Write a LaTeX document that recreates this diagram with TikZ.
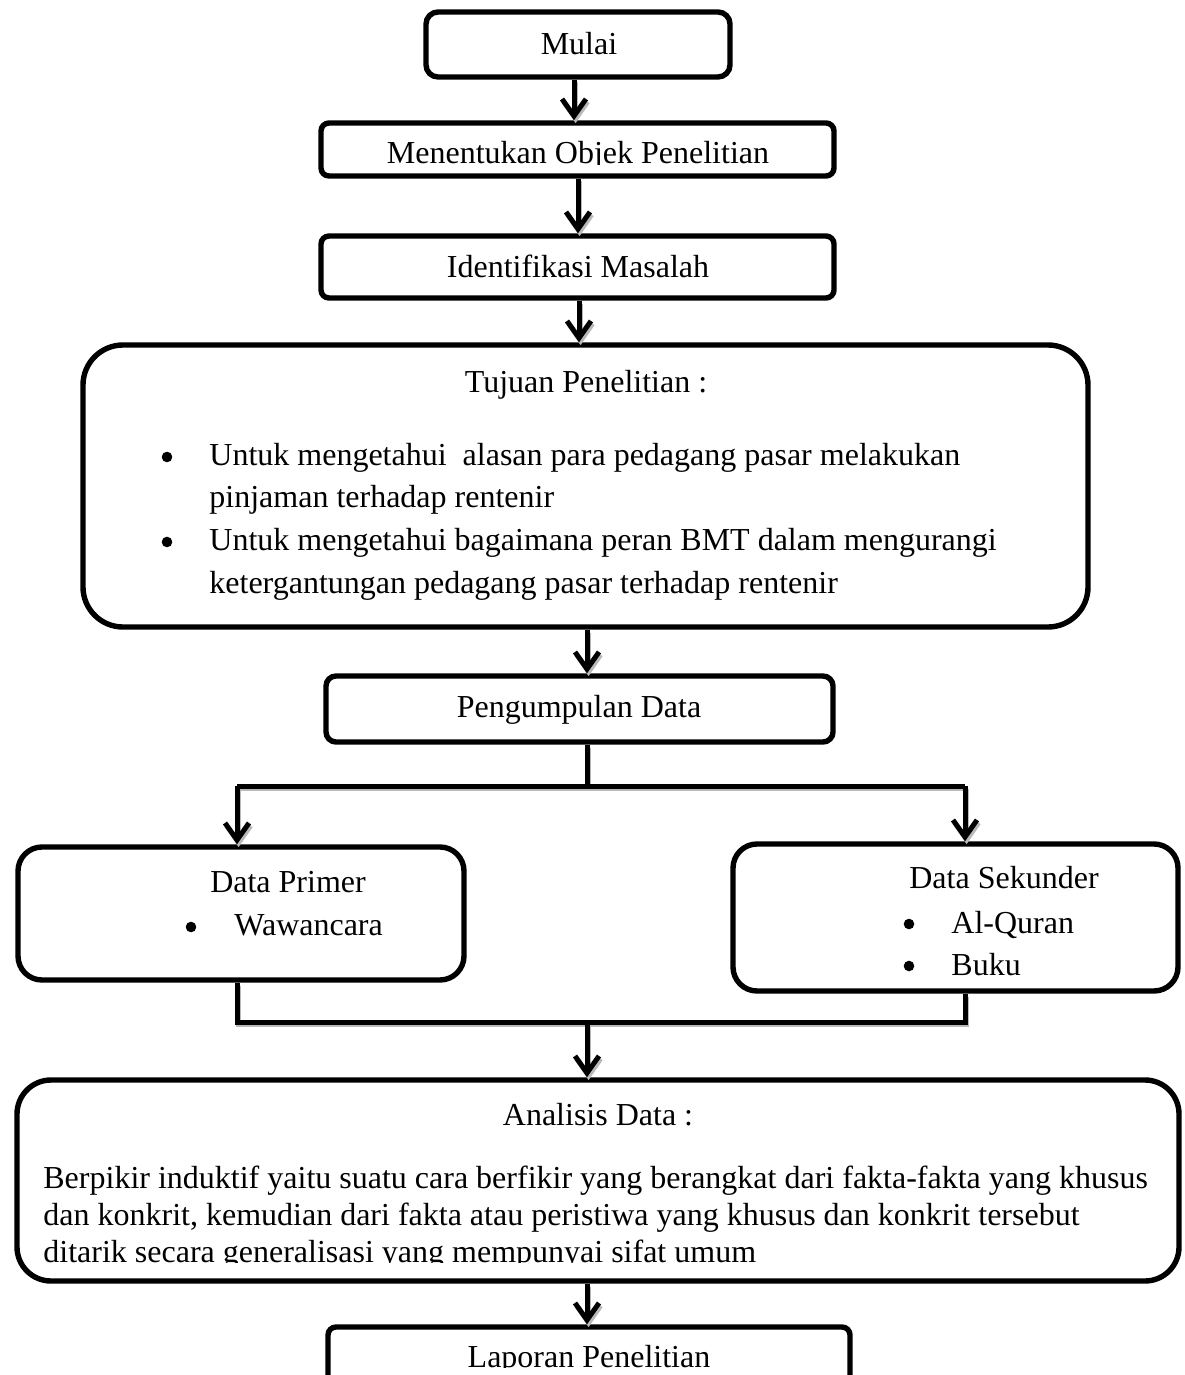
\documentclass[tikz,border=0pt]{standalone}
\usepackage{fontspec}
\setmainfont{Liberation Serif}
\usetikzlibrary{arrows.meta}
\begin{document}
\begin{tikzpicture}[x=0.5pt,y=-0.5pt,
  box/.style={draw=black, line width=2.7pt, fill=white, inner sep=0pt, rounded corners=#1},
  box/.default=5pt,
  conn/.style={line width=2.5pt, draw=black,
    preaction={draw=gray!55, line width=2.5pt, transform canvas={shift={(0.8pt,-1.4pt)}}}},
  arr/.style={conn, -{Straight Barb[length=8.5pt,width=12pt]}},
  txt/.style={inner sep=0pt, font=\fontsize{16pt}{21pt}\selectfont},
  bul/.style={circle, fill=black, inner sep=0pt, minimum size=5.3pt}]
\useasboundingbox (0,0) rectangle (1184,1375);
\clip (0,0) rectangle (1184,1375);
\fill[white] (0,0) rectangle (1184,1375);

% boxes
\node[box=6pt, minimum width=152pt, minimum height=32.5pt] (mulai) at (578,44.5) {};
\node[box=4pt, minimum width=256.5pt, minimum height=26.5pt] (objek) at (577.5,149.5) {};
\node[box=4pt, minimum width=256.5pt, minimum height=31pt] (ident) at (577.5,267) {};
\node[box=20pt, minimum width=502.5pt, minimum height=141pt] (tujuan) at (585.5,486) {};
\node[box=5pt, minimum width=253.5pt, minimum height=33pt] (kumpul) at (579.5,709) {};
\node[box=12pt, minimum width=223pt, minimum height=66.5pt] (primer) at (241,913.5) {};
\node[box=12pt, minimum width=222.5pt, minimum height=73.5pt] (sekunder) at (955.5,917.5) {};
\node[box=17pt, minimum width=581pt, minimum height=100.5pt] (analisis) at (598,1180.5) {};
\node[box=4pt, minimum width=261pt, minimum height=100pt] (laporan) at (589,1427) {};

% texts
\node[txt, anchor=base] (tmulai) at (579,55) {Mulai};
\begin{scope}
  \clip (330,125) rectangle (830,164.5);
  \node[txt, anchor=base] (tobjek) at (578,164) {Menentukan Objek Penelitian};
\end{scope}
\node[txt, anchor=base] (tident) at (578,278) {Identifikasi Masalah};

\node[txt, anchor=base] (ttujuan) at (586,392) {Tujuan Penelitian :};
\node[bul] (b1) at (167,457) {};
\node[txt, anchor=base west] (t1) at (209,465) {Untuk mengetahui\ \ alasan para pedagang pasar melakukan};
\node[txt, anchor=base west] (t2) at (209,507) {pinjaman terhadap rentenir};
\node[bul] (b2) at (167,542) {};
\node[txt, anchor=base west] (t3) at (209,550) {Untuk mengetahui bagaimana peran BMT dalam mengurangi};
\node[txt, anchor=base west] (t4) at (209,593) {ketergantungan pedagang pasar terhadap rentenir};

\node[txt, anchor=base] (tkumpul) at (579,717) {Pengumpulan Data};

\node[txt, anchor=base] (tprimer) at (288,892) {Data Primer};
\node[bul] (bp) at (191,927) {};
\node[txt, anchor=base west] (tw) at (234,935) {Wawancara};

\node[txt, anchor=base] (tsek) at (1004,888) {Data Sekunder};
\node[bul] (bs1) at (909,924) {};
\node[txt, anchor=base west] (tq) at (951,933) {Al-Quran};
\node[bul] (bs2) at (909,966) {};
\node[txt, anchor=base west] (tb) at (951,975) {Buku};

\node[txt, anchor=base] (tanal) at (598,1125) {Analisis Data :};
\node[txt, anchor=base west] (a1) at (43,1188) {Berpikir induktif yaitu suatu cara berfikir yang berangkat dari fakta-fakta yang khusus};
\node[txt, anchor=base west] (a2) at (43,1225) {dan konkrit, kemudian dari fakta atau peristiwa yang khusus dan konkrit tersebut};
\begin{scope}
  \clip (30,1235) rectangle (1160,1262.5);
  \node[txt, anchor=base west] (a3) at (43,1262) {ditarik secara generalisasi yang mempunyai sifat umum};
\end{scope}
\begin{scope}
  \clip (340,1335) rectangle (840,1367.5);
  \node[txt, anchor=base] (tlap) at (589,1367) {Laporan Penelitian};
\end{scope}

% connectors
\coordinate (c1) at (574,0);
\coordinate (c2) at (578,0);
\coordinate (c3) at (579,0);
\coordinate (c4) at (587,0);
\coordinate (split) at (587,786);
\coordinate (pl) at (237,786);
\coordinate (pr) at (965,786);
\coordinate (jl) at (237,1022);
\coordinate (jr) at (965,1022);
\coordinate (merge) at (587,1022);

\draw[arr] (mulai.south -| c1) -- (objek.north -| c1);
\draw[arr] (objek.south -| c2) -- (ident.north -| c2);
\draw[arr] (ident.south -| c3) -- (tujuan.north -| c3);
\draw[arr] (tujuan.south -| c4) -- (kumpul.north -| c4);
\draw[conn] (kumpul.south -| c4) -- (split);
\draw[conn] (pl) -- (pr);
\draw[arr] (pl) -- (primer.north -| pl);
\draw[arr] (pr) -- (sekunder.north -| pr);
\draw[conn] (primer.south -| jl) -- (jl) -- (jr) -- (sekunder.south -| jr);
\draw[arr] (merge) -- (analisis.north -| merge);
\draw[arr] (analisis.south -| c4) -- (laporan.north -| c4);
\end{tikzpicture}
\end{document}
